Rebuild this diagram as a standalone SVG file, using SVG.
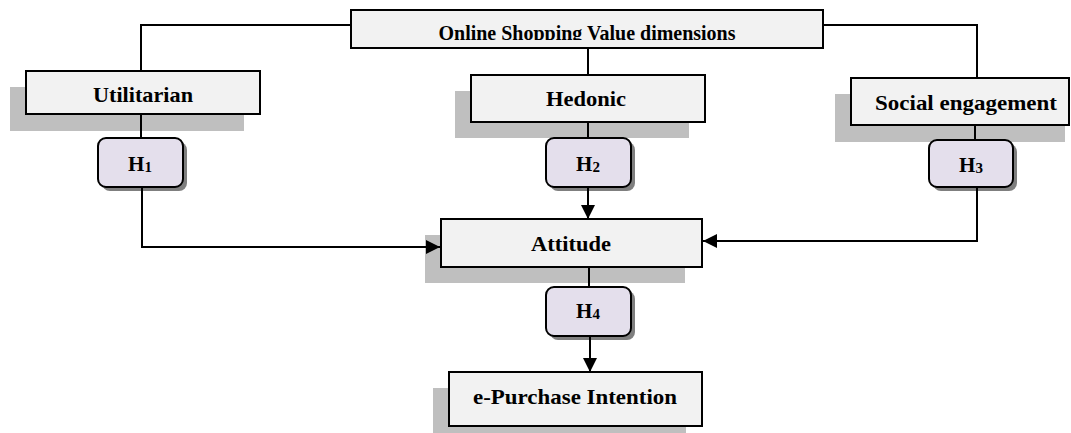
<svg xmlns="http://www.w3.org/2000/svg" width="1071" height="433" viewBox="0 0 1071 433">
<style>
.box{fill:#f2f2f2;stroke:#000;stroke-width:2}
.shd{fill:#bfbfbf}
.hbox{fill:#e4dfec;stroke:#000;stroke-width:2}
.hshd{fill:#7f7f7f}
.t{font-family:"Liberation Serif",serif;font-weight:bold;font-size:21px;fill:#000;text-anchor:middle}
.c{fill:none;stroke:#000;stroke-width:2}
</style>
<defs>
<marker id="arr" viewBox="0 0 10 10" refX="10" refY="5" markerWidth="14" markerHeight="14" markerUnits="userSpaceOnUse" orient="auto">
<path d="M0,0 L10,5 L0,10 z" fill="#000"/>
</marker>
<clipPath id="topclip"><rect x="351" y="10" width="472" height="30"/></clipPath>
</defs>
<g id="nodes">
<g id="top">
<rect class="box" x="351" y="10" width="472" height="38"/>
<text class="t" x="587" y="40" font-size="20" textLength="297" lengthAdjust="spacingAndGlyphs" clip-path="url(#topclip)">Online Shopping Value dimensions</text>
</g>
<g id="utilitarian">
<rect class="shd" x="10" y="87" width="234" height="44"/>
<rect class="box" x="26" y="71" width="234" height="43"/>
<text class="t" x="143" y="102" textLength="100" lengthAdjust="spacingAndGlyphs">Utilitarian</text>
</g>
<g id="hedonic">
<rect class="shd" x="455" y="91" width="234" height="47"/>
<rect class="box" x="471" y="75" width="234" height="47"/>
<text class="t" x="586" y="106" textLength="80" lengthAdjust="spacingAndGlyphs">Hedonic</text>
</g>
<g id="social">
<rect class="shd" x="835" y="94" width="230" height="48"/>
<rect class="box" x="851" y="78" width="218" height="47"/>
<text class="t" x="966" y="110" textLength="182" lengthAdjust="spacingAndGlyphs">Social engagement</text>
</g>
<g id="h1">
<rect class="hshd" x="102" y="142" width="85" height="49" rx="8"/>
<rect class="hbox" x="98" y="138" width="85" height="49" rx="8"/>
<text class="t" x="140" y="171">H<tspan font-size="15" dy="1">1</tspan></text>
</g>
<g id="h2">
<rect class="hshd" x="550" y="142" width="85" height="49" rx="8"/>
<rect class="hbox" x="546" y="138" width="85" height="49" rx="8"/>
<text class="t" x="588" y="171">H<tspan font-size="15" dy="1">2</tspan></text>
</g>
<g id="h3">
<rect class="hshd" x="933" y="144" width="84" height="47" rx="8"/>
<rect class="hbox" x="929" y="140" width="84" height="47" rx="8"/>
<text class="t" x="971" y="172">H<tspan font-size="15" dy="1">3</tspan></text>
</g>
<g id="attitude">
<rect class="shd" x="425" y="235" width="260" height="48"/>
<rect class="box" x="441" y="219" width="261" height="48"/>
<text class="t" x="571" y="251" textLength="80" lengthAdjust="spacingAndGlyphs">Attitude</text>
</g>
<g id="h4">
<rect class="hshd" x="550" y="291" width="85" height="49" rx="8"/>
<rect class="hbox" x="546" y="287" width="85" height="49" rx="8"/>
<text class="t" x="588" y="318">H<tspan font-size="15" dy="1">4</tspan></text>
</g>
<g id="epurchase">
<rect class="shd" x="433" y="388" width="253" height="45"/>
<rect class="box" x="449" y="372" width="253" height="54"/>
<text class="t" x="575" y="404" textLength="204" lengthAdjust="spacingAndGlyphs">e-Purchase Intention</text>
</g>
</g>
<g id="connectors">
<path class="c" d="M351,25 H141 V71"/>
<path class="c" d="M823,25 H977 V78"/>
<path class="c" d="M588,49 V75"/>
<path class="c" d="M141,114 V138"/>
<path class="c" d="M588,122 V138"/>
<path class="c" d="M975,125 V140"/>
<path class="c" d="M142,187 V247 H440" marker-end="url(#arr)"/>
<path class="c" d="M588,187 V219" marker-end="url(#arr)"/>
<path class="c" d="M977,187 V241 H703" marker-end="url(#arr)"/>
<path class="c" d="M589,267 V287"/>
<path class="c" d="M590,336 V372" marker-end="url(#arr)"/>
</g>
</svg>
